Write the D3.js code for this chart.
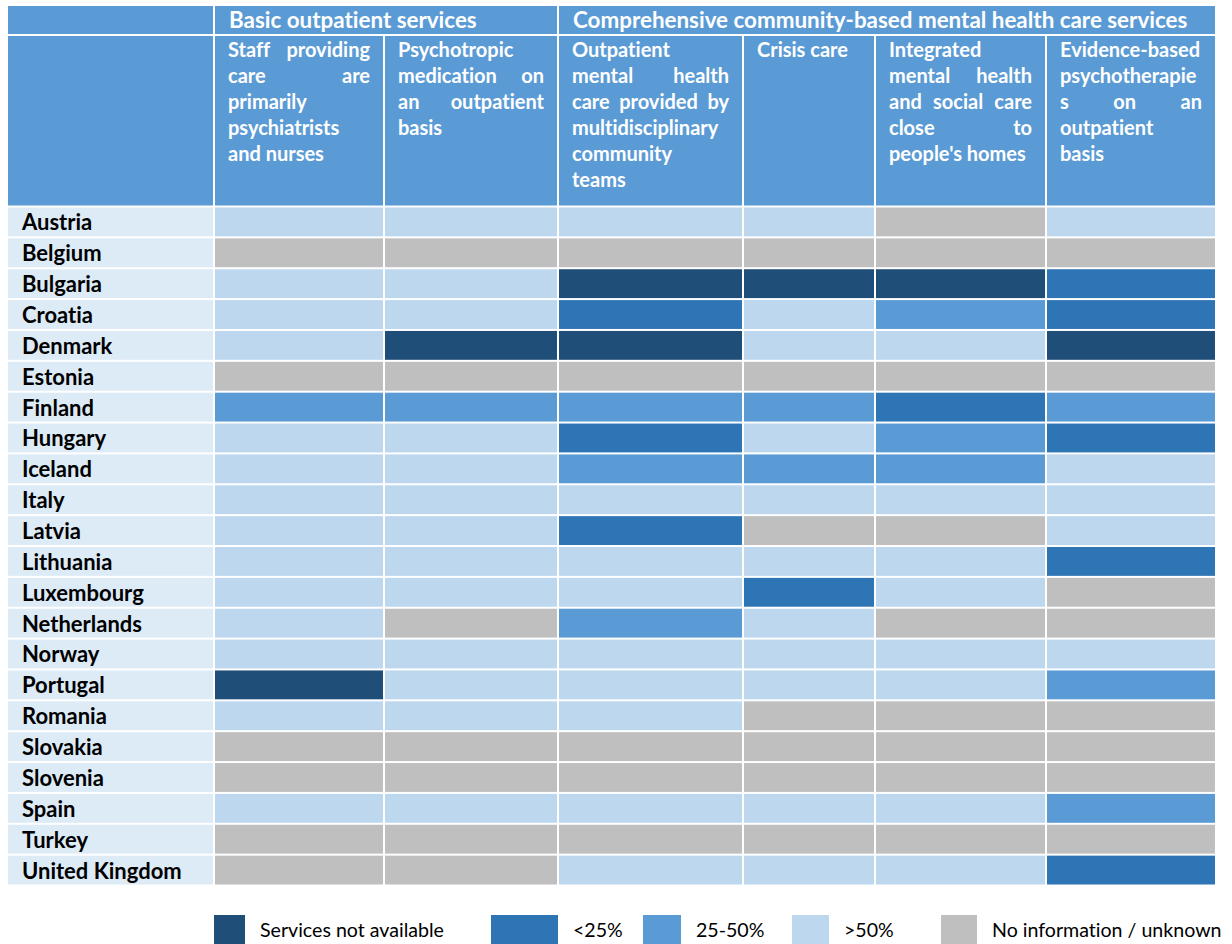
<!DOCTYPE html>
<html>
<head>
<meta charset="utf-8">
<script src="https://cdn.jsdelivr.net/npm/d3@7"></script>
<style>
  body { margin: 0; background: #fff; }
  text { font-family: Lato, "Open Sans", sans-serif; font-variant-ligatures: none; font-feature-settings: "liga" 0; }
</style>
</head>
<body>
<div id="chart"></div>
<script>
var countries = ["Austria", "Belgium", "Bulgaria", "Croatia", "Denmark", "Estonia", "Finland",
  "Hungary", "Iceland", "Italy", "Latvia", "Lithuania", "Luxembourg", "Netherlands", "Norway",
  "Portugal", "Romania", "Slovakia", "Slovenia", "Spain", "Turkey", "United Kingdom"];

// one letter per column: D = not available, L = <25%, M = 25-50%, H = >50%, N = unknown
var cellValues = ["HHHHNH", "NNNNNN", "HHDDDL", "HHLHML", "HDDHHD", "NNNNNN", "MMMMLM",
  "HHLHML", "HHMMMH", "HHHHHH", "HHLNNH", "HHHHHL", "HHHLHN", "HNMHNN", "HHHHHH",
  "DHHHHM", "HHHNNN", "NNNNNN", "NNNNNN", "HHHHHM", "NNNNNN", "NNHHHL"];

var groupNames = ["Basic outpatient services", "Comprehensive community-based mental health care services"];
var groupSpans = [2, 4];

var colHeaderLines = [
  ["Staff providing", "care are", "primarily", "psychiatrists", "and nurses"],
  ["Psychotropic", "medication on", "an outpatient", "basis"],
  ["Outpatient", "mental health", "care provided by", "multidisciplinary", "community", "teams"],
  ["Crisis care"],
  ["Integrated", "mental health", "and social care", "close to", "people's homes"],
  ["Evidence-based", "psychotherapie", "s on an", "outpatient", "basis"]
];

var statusKeys = ["D", "L", "M", "H", "N"];
var statusLabels = ["Services not available", "<25%", "25-50%", ">50%", "No information / unknown"];

// layout
var w = 1232, h = 944;
var colEdges = [215, 385, 559, 744, 876, 1047, 1217];
var labelX = 8, labelW = 205;
var headerBlue = "#5b9bd5", labelBg = "#ddebf7";

var color = d3.scaleOrdinal()
  .domain(statusKeys)
  .range(["#1f4e79", "#2e75b6", "#5b9bd5", "#bdd7ee", "#bfbfbf"]);

var x = d3.scaleOrdinal().domain(d3.range(6)).range(colEdges.slice(0, 6));
var colW = function(i) { return colEdges[i + 1] - colEdges[i] - 2; };

var y = d3.scaleBand()
  .domain(countries)
  .range([207.5, 884.5])
  .paddingInner(0.065);

var svg = d3.select("#chart")
  .append("svg")
  .attr("width", w)
  .attr("height", h);

// header row 1 (groups)
svg.append("rect")
  .attr("x", labelX).attr("y", 6).attr("width", labelW).attr("height", 28)
  .attr("fill", headerBlue);

var start = 0;
groupNames.forEach(function(name, i) {
  var x0 = x(start), x1 = colEdges[start + groupSpans[i]] - 2;
  svg.append("rect")
    .attr("x", x0).attr("y", 6).attr("width", x1 - x0).attr("height", 28)
    .attr("fill", headerBlue);
  svg.append("text")
    .attr("x", x0 + 14).attr("y", 27.5)
    .attr("fill", "#fff")
    .style("font-weight", "bold")
    .style("font-size", "22.4px")
    .text(name);
  start += groupSpans[i];
});

// header row 2 (columns)
svg.append("rect")
  .attr("x", labelX).attr("y", 36).attr("width", labelW).attr("height", 169.5)
  .attr("fill", headerBlue);

function drawLine(g, text, x0, x1, yb, justify) {
  var words = text.split(" ");
  if (!justify || words.length < 2) {
    g.append("text").attr("x", x0).attr("y", yb).text(text);
    return;
  }
  var nodes = words.map(function(wd) { return g.append("text").attr("y", yb).text(wd); });
  var widths = nodes.map(function(n) { return n.node().getComputedTextLength(); });
  var gap = (x1 - x0 - d3.sum(widths)) / (words.length - 1);
  var cx = x0;
  nodes.forEach(function(n, k) { n.attr("x", cx); cx += widths[k] + gap; });
}

colHeaderLines.forEach(function(lines, i) {
  svg.append("rect")
    .attr("x", x(i)).attr("y", 36).attr("width", colW(i)).attr("height", 169.5)
    .attr("fill", headerBlue);
  var g = svg.append("g")
    .attr("fill", "#fff")
    .style("font-weight", "bold")
    .style("font-size", "20px");
  lines.forEach(function(line, k) {
    drawLine(g, line, x(i) + 13, x(i) + colW(i) - 13, 56.5 + k * 26, k < lines.length - 1);
  });
});

// row labels
svg.selectAll(".rowbg")
  .data(countries)
  .enter()
  .append("rect")
  .attr("class", "rowbg")
  .attr("x", labelX)
  .attr("y", function(d) { return y(d); })
  .attr("width", labelW)
  .attr("height", y.bandwidth())
  .attr("fill", labelBg);

svg.selectAll(".rowlabel")
  .data(countries)
  .enter()
  .append("text")
  .attr("class", "rowlabel")
  .attr("x", 22)
  .attr("y", function(d) { return y(d) + y.bandwidth() - 6; })
  .style("font-weight", "bold")
  .style("font-size", "22px")
  .attr("fill", "#000")
  .text(function(d) { return d; });

// cells
var cells = [];
countries.forEach(function(c, i) {
  cellValues[i].split("").forEach(function(v, j) {
    cells.push({ country: c, col: j, v: v });
  });
});

svg.selectAll(".cell")
  .data(cells)
  .enter()
  .append("rect")
  .attr("class", "cell")
  .attr("x", function(d) { return x(d.col); })
  .attr("y", function(d) { return y(d.country); })
  .attr("width", function(d) { return colW(d.col); })
  .attr("height", y.bandwidth())
  .attr("fill", function(d) { return color(d.v); })
  .append("title")
  .text(function(d) { return d.country + ": " + statusLabels[statusKeys.indexOf(d.v)]; });

// legend
var legendX = [214, 491, 643, 792, 941];
var legendW = [31, 67, 38, 37, 36];

var legend = svg.selectAll(".legend")
  .data(statusKeys)
  .enter()
  .append("g")
  .attr("class", "legend");

legend.append("rect")
  .attr("x", function(d, i) { return legendX[i]; })
  .attr("y", 915)
  .attr("width", function(d, i) { return legendW[i]; })
  .attr("height", 30)
  .attr("fill", function(d) { return color(d); });

legend.append("text")
  .attr("x", function(d, i) { return legendX[i] + legendW[i] + 15; })
  .attr("y", 937)
  .style("font-size", "19.6px")
  .attr("fill", "#000")
  .text(function(d, i) { return statusLabels[i]; });
</script>
</body>
</html>
